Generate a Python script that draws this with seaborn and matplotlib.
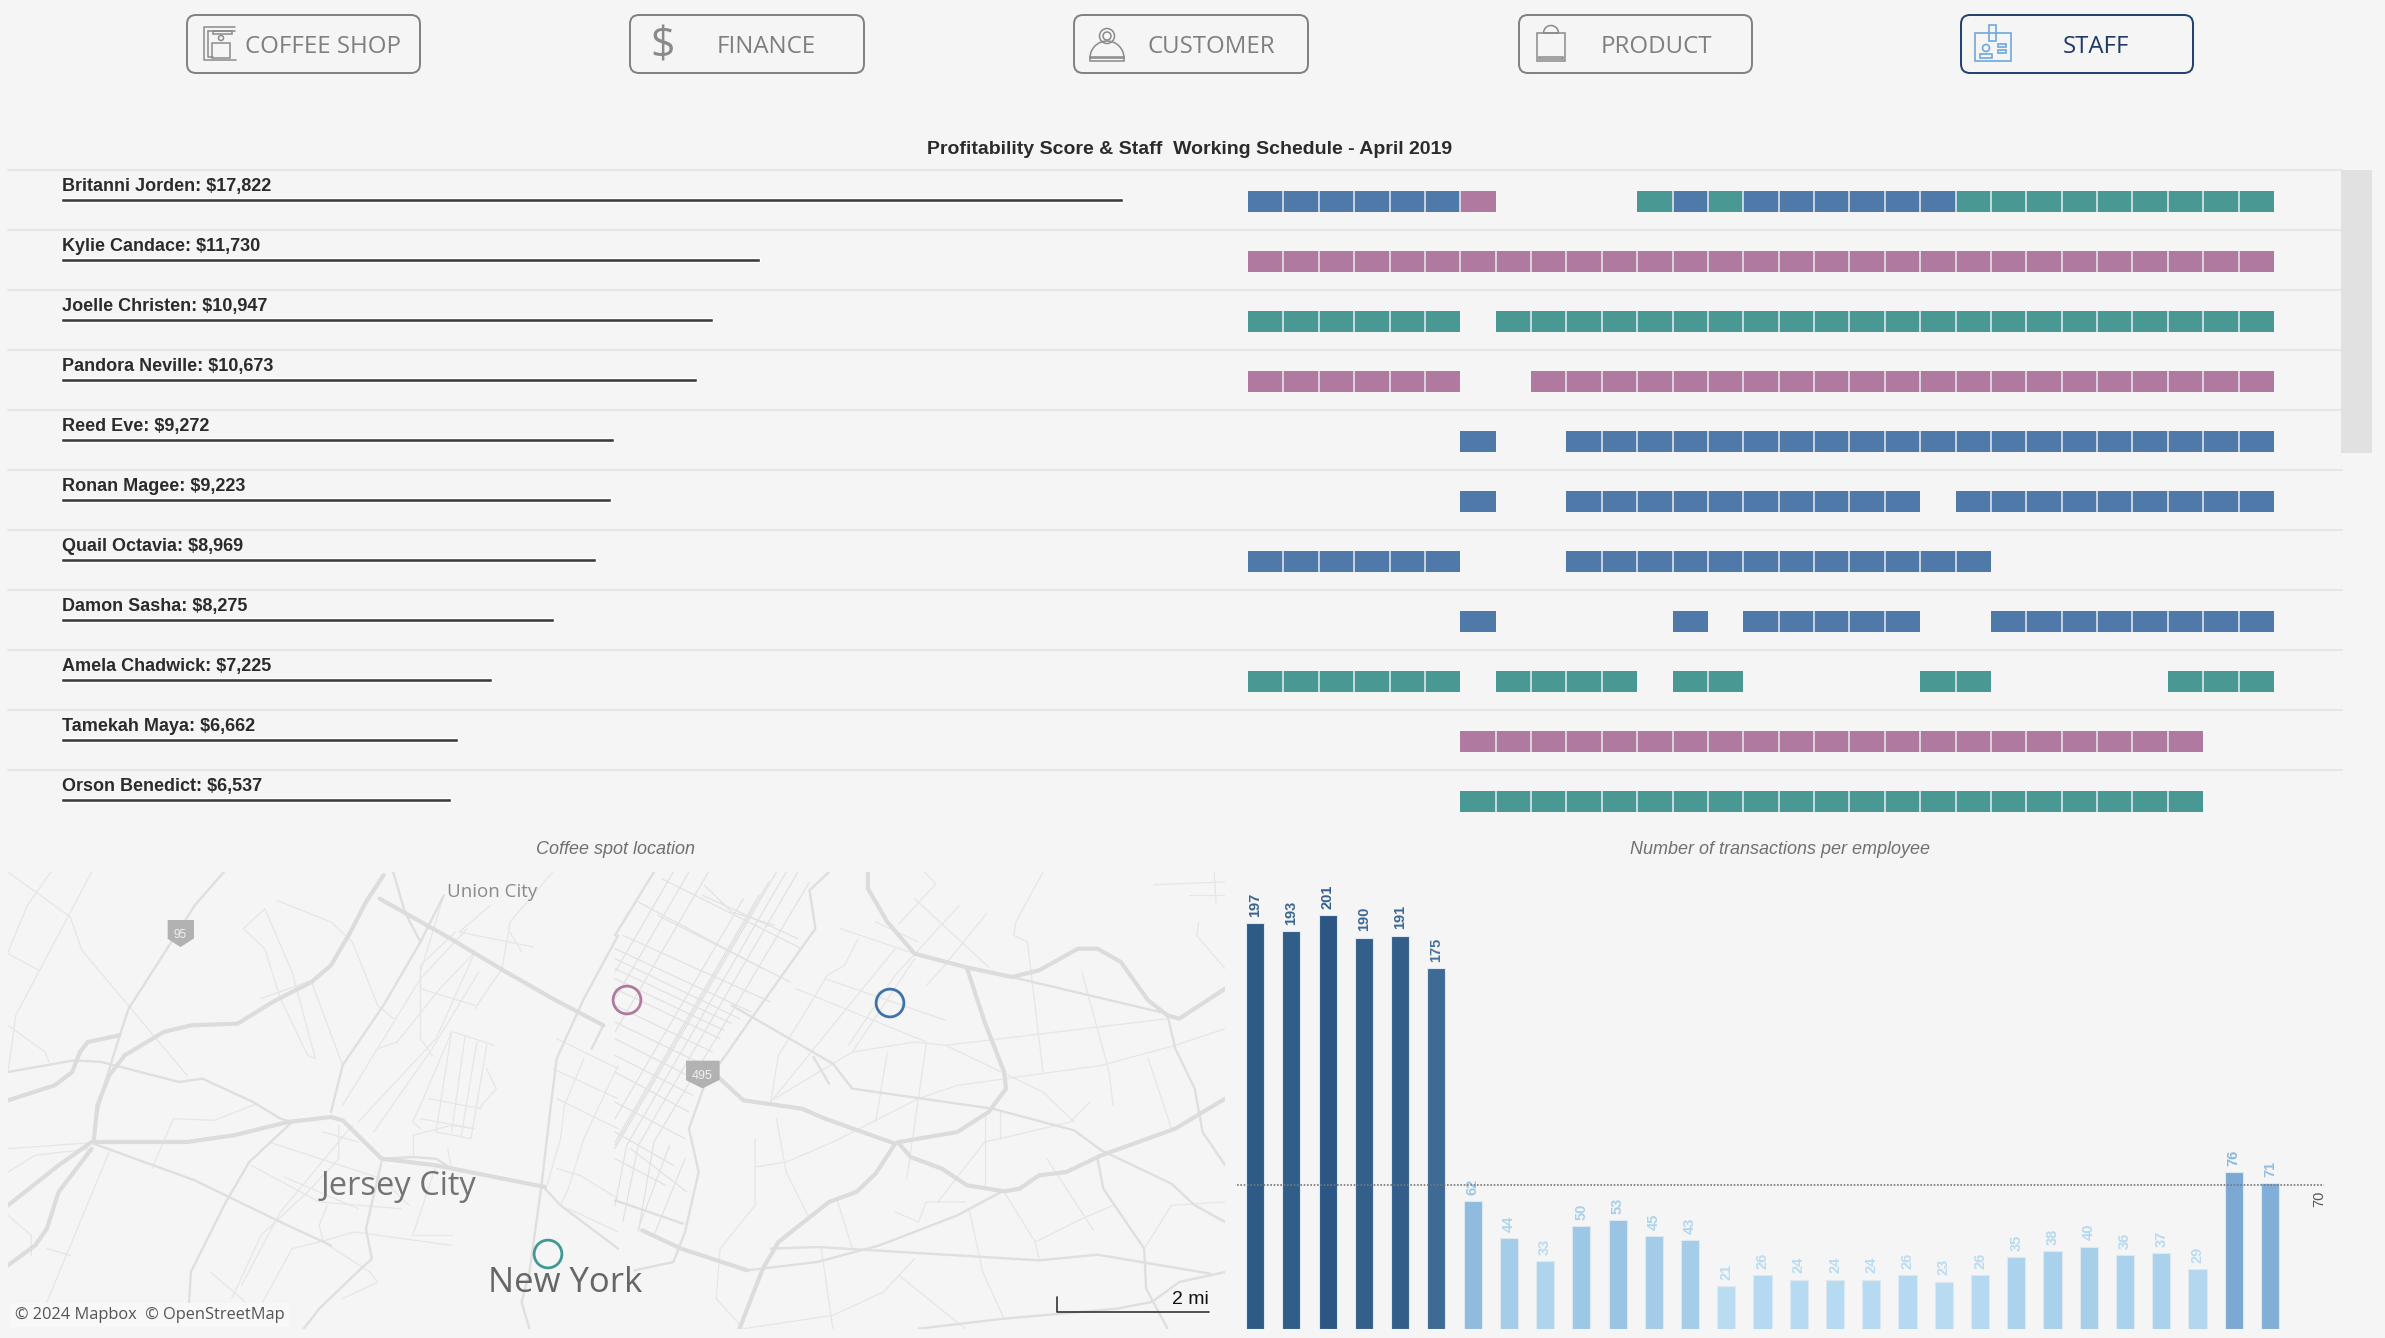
import numpy as np
import pandas as pd
import matplotlib
matplotlib.use("Agg")
import matplotlib.pyplot as plt
from matplotlib.colors import ListedColormap, LinearSegmentedColormap, Normalize
from matplotlib.patches import FancyBboxPatch, Rectangle, Circle, Wedge
import seaborn as sns

W, H = 2385, 1338
BG = "#f5f5f5"
BLUE = "#4f79a8"
TEAL = "#4a9894"
PINK = "#b0799f"

buttons = ["COFFEE SHOP", "FINANCE", "CUSTOMER", "PRODUCT", "STAFF"]

employees = ["Britanni Jorden", "Kylie Candace", "Joelle Christen", "Pandora Neville", "Reed Eve",
             "Ronan Magee", "Quail Octavia", "Damon Sasha", "Amela Chadwick", "Tamekah Maya", "Orson Benedict"]
profit = [17822, 11730, 10947, 10673, 9272, 9223, 8969, 8275, 7225, 6662, 6537]

# schedule per employee: 29 working days, . = off, b/t/p = store
schedule = [
    "bbbbbbp....tbtbbbbbbttttttttt",
    "ppppppppppppppppppppppppppppp",
    "tttttt.tttttttttttttttttttttt",
    "pppppp..ppppppppppppppppppppp",
    "......b..bbbbbbbbbbbbbbbbbbbb",
    "......b..bbbbbbbbbb.bbbbbbbbb",
    "bbbbbb...bbbbbbbbbbbb........",
    "......b.....b.bbbbb..bbbbbbbb",
    "tttttt.tttt.tt.....tt.....ttt",
    "......ppppppppppppppppppppp..",
    "......ttttttttttttttttttttt..",
]

transactions = [197, 193, 201, 190, 191, 175, 62, 44, 33, 50, 53, 45, 43, 21, 26, 24,
                24, 24, 26, 23, 26, 35, 38, 40, 36, 37, 29, 76, 71]
target = 70

# store markers in picture pixels
store_x = [627, 890, 548]
store_y = [1000, 1003, 1254]
store_colors = [PINK, "#3f72a8", "#3f9a96"]

west_heavy = [
    [(1280, 300), (1400, 380), (1530, 460)],
    [(215, 830), (130, 960), (100, 1070), (70, 1120), (0, 1180)],
    [(955, 80), (1130, 195), (1280, 300)],
    [(0, 685), (120, 640), (165, 600), (185, 540), (205, 510), (285, 490)],
    [(220, 810), (460, 810), (580, 790), (720, 750), (830, 735), (860, 745), (960, 860), (1100, 880), (1380, 945)],
    [(220, 810), (230, 700), (260, 610), (300, 550), (400, 480), (470, 460), (590, 455), (680, 390), (780, 330), (830, 280), (880, 180), (920, 90), (965, 10)],
    [(0, 1000), (130, 880), (215, 810)],
]
west_medium = [
    [(960, 860), (1040, 855), (1100, 860), (1140, 890)],
    [(1530, 460), (1500, 530)],
    [(555, 0), (480, 100), (420, 210), (310, 410), (290, 480), (250, 630), (225, 740), (220, 810)],
    [(0, 600), (170, 565), (240, 570), (440, 630), (500, 620), (630, 690), (700, 740), (730, 750)],
    [(730, 750), (620, 870), (560, 990), (470, 1200), (465, 1300)],
    [(830, 720), (860, 580), (965, 400), (1060, 210), (1120, 70)],
    [(990, 0), (1020, 120), (1060, 210)],
    [(220, 815), (480, 925), (700, 1050), (830, 1120)],
    [(960, 870), (920, 1070), (935, 1160), (880, 1220), (800, 1310), (760, 1370)],
    [(1568, 190), (1480, 380), (1410, 560), (1390, 750), (1370, 950), (1340, 1200), (1320, 1290), (1340, 1370)],
    [(1380, 950), (1420, 1000), (1568, 1130)],
]
west_minor = [
    [(0, 0), (160, 135), (190, 235), (460, 610)],
    [(110, 0), (50, 100), (0, 240)],
    [(215, 0), (20, 430), (0, 600)],
    [(0, 245), (80, 295)],
    [(0, 460), (95, 540), (105, 570)],
    [(0, 830), (215, 812)],
    [(0, 900), (70, 850), (215, 830)],
    [(605, 170), (660, 110), (730, 300), (790, 560), (770, 550), (700, 380), (660, 230), (605, 170)],
    [(690, 85), (830, 150), (885, 210), (950, 400), (990, 440)],
    [(650, 380), (780, 325)],
    [(780, 330), (860, 580)],
    [(370, 890), (425, 740), (530, 745), (640, 695)],
    [(1120, 70), (1060, 300), (1060, 500), (1090, 550)],
    [(1150, 180), (1060, 280), (1060, 350), (1200, 400)],
    [(1400, 0), (1290, 150), (1270, 290), (1240, 340), (1200, 410)],
    [(1240, 100), (1160, 180), (1350, 225)],
    [(1290, 180), (1320, 240)],
    [(950, 530), (1000, 510), (1110, 350), (1200, 240)],
    [(860, 700), (1060, 320), (1180, 170)],
    [(900, 750), (1100, 500), (1200, 240)],
    [(940, 780), (1090, 530), (1210, 300)],
    [(1140, 480), (1060, 700), (1040, 750), (1060, 770)],
    [(1145, 480), (1250, 520)],
    [(1140, 480), (1100, 780), (1190, 800), (1230, 520)],
    [(1175, 490), (1140, 780)],
    [(1205, 510), (1165, 790)],
    [(1230, 590), (1255, 650), (1210, 710)],
    [(1080, 680), (1215, 710)],
    [(1060, 740), (1200, 770)],
    [(1040, 790), (1140, 760), (1195, 770)],
    [(1040, 790), (1040, 850)],
    [(1130, 830), (1140, 890)],
    [(810, 780), (900, 810)],
    [(670, 810), (960, 920), (1030, 1000)],
    [(625, 880), (800, 990), (1010, 1010)],
    [(800, 1110), (890, 1080), (1140, 1120)],
    [(1040, 1090), (1140, 1090)],
    [(1100, 880), (1040, 1090)],
    [(850, 760), (850, 860), (770, 960), (650, 1090), (575, 1280)],
    [(885, 760), (700, 1020), (600, 1240)],
    [(800, 1110), (730, 1130), (650, 1300)],
    [(710, 915), (900, 1010)],
    [(520, 1200), (610, 1290)],
    [(800, 1060), (820, 1000)],
    [(800, 1060), (810, 1110), (930, 1200)],
    [(930, 1200), (950, 1230), (860, 1280)],
    [(0, 1030), (60, 1090), (60, 1150)],
    [(100, 1130), (160, 1150)],
    [(100, 1290), (260, 840)],
    [(1410, 500), (1568, 590)],
    [(1400, 590), (1568, 680)],
    [(1410, 680), (1568, 770)],
    [(1480, 560), (1430, 700), (1420, 800), (1385, 940)],
    [(1568, 580), (1480, 800), (1440, 950), (1420, 1000)],
    [(1410, 890), (1470, 910), (1568, 980)],
    [(1440, 1010), (1568, 1080)],
]

east_heavy = [
    [(650, 0), (650, 50), (700, 150), (770, 245), (900, 285), (1020, 315), (1090, 295), (1190, 230), (1240, 230), (1300, 270), (1370, 385), (1420, 430), (1450, 440), (1568, 350)],
    [(905, 290), (950, 450), (1000, 600), (1005, 650), (960, 720), (880, 780), (730, 810), (720, 815), (540, 740), (480, 710), (330, 685), (265, 615)],
    [(730, 815), (760, 855), (840, 890), (905, 940), (1000, 958), (1040, 950), (1090, 910), (1160, 900), (1250, 850), (1440, 770), (1568, 680)],
    [(720, 815), (670, 905), (620, 960), (550, 990), (420, 1110), (380, 1190), (320, 1370)],
    [(70, 1075), (170, 1130), (340, 1195)],
]
east_medium = [
    [(1420, 430), (1440, 530), (1490, 650), (1510, 780), (1568, 880)],
    [(1020, 315), (1400, 420)],
    [(300, 400), (560, 575), (610, 650), (970, 710), (1180, 775), (1250, 835), (1430, 935), (1490, 1000), (1568, 1050)],
    [(510, 555), (550, 635)],
    [(550, 0), (500, 55), (515, 170), (350, 440), (260, 590)],
    [(230, 640), (190, 770), (215, 900), (180, 1080), (150, 1170), (50, 1195)],
    [(100, 0), (0, 190)],
    [(0, 985), (175, 1055)],
    [(340, 1195), (520, 1170), (680, 1120), (880, 1030), (1000, 955)],
    [(400, 1130), (520, 1125), (1090, 1165), (1240, 1148), (1530, 1205)],
    [(1240, 860), (1255, 950), (1360, 1130), (1365, 1250), (1420, 1370)],
    [(1568, 1200), (1450, 1230), (1380, 1290), (1290, 1310), (1000, 1340), (780, 1370)],
]
east_minor = [
    [(580, 170), (770, 245)],
    [(885, 100), (720, 310), (600, 520)],
    [(730, 155), (825, 35), (795, 0)],
    [(770, 80), (960, 285)],
    [(955, 125), (840, 290), (800, 340)],
    [(1100, 0), (1030, 150), (1025, 190), (1060, 210), (1100, 600)],
    [(670, 150), (780, 210)],
    [(625, 200), (590, 280), (545, 310), (510, 380), (420, 550), (400, 690)],
    [(465, 350), (800, 510)],
    [(540, 320), (850, 445)],
    [(720, 230), (400, 690)],
    [(770, 260), (610, 540)],
    [(610, 540), (770, 510), (850, 520), (1420, 440)],
    [(850, 520), (1100, 660), (1180, 750)],
    [(610, 540), (410, 680)],
    [(700, 540), (670, 750)],
    [(800, 515), (750, 920)],
    [(880, 640), (1250, 580), (1440, 520), (1568, 470)],
    [(880, 640), (780, 680), (560, 810), (440, 870), (360, 885)],
    [(1200, 300), (1270, 600), (1280, 700)],
    [(1370, 560), (1430, 770)],
    [(1220, 690), (1170, 750), (990, 800), (950, 810), (830, 990)],
    [(950, 720), (950, 950)],
    [(990, 720), (990, 800)],
    [(415, 740), (440, 900), (500, 1040)],
    [(360, 800), (360, 1000), (270, 1130), (260, 1280), (330, 1370)],
    [(1110, 860), (1230, 1075)],
    [(1000, 960), (1080, 1110), (1090, 1165)],
    [(1080, 1110), (1200, 1040), (1280, 1000)],
    [(1360, 1130), (1430, 1000), (1568, 990)],
    [(910, 1010), (945, 1200), (1000, 1340)],
    [(730, 1210), (900, 1370)],
    [(770, 1160), (690, 1260), (560, 1330), (330, 1370)],
    [(530, 1130), (560, 1370)],
    [(570, 980), (610, 1130)],
    [(720, 1020), (780, 1050), (800, 990), (900, 990)],
    [(1500, 150), (1495, 190), (1568, 290)],
    [(1385, 38), (1568, 30)],
    [(1475, 70), (1568, 70)],
    [(1540, 0), (1545, 95)],
]
# midtown streets and avenues
grid_lines = [
    [(150, 0), (0, 300)], [(190, 0), (0, 380)], [(240, 0), (0, 480)],
    [(330, 80), (0, 740)], [(370, 70), (0, 810)], [(395, 30), (0, 820)], [(415, 0), (0, 830)],
    [(440, 0), (30, 820), (0, 1000)], [(470, 0), (60, 820), (20, 1050)], [(500, 30), (100, 810), (60, 1080)],
    [(0, 230), (350, 420)], [(0, 260), (320, 440)], [(0, 290), (300, 455)], [(0, 320), (280, 475)],
    [(0, 350), (270, 500)], [(0, 400), (250, 540)], [(0, 450), (230, 580)], [(0, 500), (220, 630)],
    [(0, 550), (200, 670)], [(0, 600), (190, 720)], [(0, 690), (180, 800)], [(0, 780), (150, 880)],
    [(120, 20), (480, 230)], [(225, 70), (470, 200)], [(110, 130), (450, 330)], [(60, 90), (380, 290)],
    [(20, 190), (400, 390)], [(230, 40), (300, 120), (410, 160)],
    [(0, 860), (130, 940)], [(40, 830), (185, 960)], [(140, 820), (60, 1070)], [(180, 860), (100, 1090)],
]

sns.set_theme(style="white")
plt.rcParams["font.family"] = ["Liberation Sans", "DejaVu Sans"]

fig = plt.figure(figsize=(W / 100, H / 100), dpi=100, facecolor=BG)


def px_axes(x0, y0, x1, y1):
    ax = fig.add_axes([x0 / W, 1 - y1 / H, (x1 - x0) / W, (y1 - y0) / H])
    ax.set_axis_off()
    ax.patch.set_alpha(0)
    return ax


# page furniture, drawn in pixels
page = px_axes(0, 0, W, H)
page.set_xlim(0, W)
page.set_ylim(H, 0)

button_x = [(187, 420, 323), (630, 864, 766), (1074, 1308, 1211), (1519, 1752, 1656), (1961, 2193, 2096)]
for label, (x0, x1, tx) in zip(buttons, button_x):
    active = label == "STAFF"
    page.add_patch(FancyBboxPatch((x0 + 8, 15 + 8), x1 - x0 - 16, 58 - 16, boxstyle="round,pad=8,rounding_size=9",
                                  fc="none", ec="#1f3f6e" if active else "#808080", lw=1.4))
    page.text(tx, 47, label, ha="center", va="center", fontsize=17.3, family="Open Sans",
              color="#1f3864" if active else "#7f7f7f")

icon = dict(fc="none", ec="#8a8a8a", lw=1.1)
# coffee machine
page.plot([235, 204, 204, 236], [27, 27, 60, 60], color="#8a8a8a", lw=1.1)
page.plot([208, 208, 213], [31, 57, 57], color="#8a8a8a", lw=1.1)
page.plot([208, 235], [31, 31], color="#8a8a8a", lw=1.1)
page.add_patch(Rectangle((213, 31), 19, 3, **icon))
page.add_patch(Circle((221, 38), 2.5, **icon))
page.add_patch(Rectangle((212, 43), 18, 15, **icon))
# dollar sign
page.text(663, 47, "$", ha="center", va="center", fontsize=31, family="Open Sans", color="#8a8a8a")
# customer
page.add_patch(Circle((1107, 36), 7.5, **icon))
page.add_patch(Circle((1107, 36), 4, **icon))
page.add_patch(Wedge((1107, 58), 17, 180, 360, **icon))
page.add_patch(Rectangle((1090, 57), 34, 3.5, **icon))
# bag
page.add_patch(Rectangle((1537, 33), 28, 28, **icon))
page.add_patch(Wedge((1551, 33), 7.5, 180, 360, **icon))
page.add_patch(Rectangle((1539, 57), 24, 2, **icon))
# badge
badge = dict(fc="none", ec="#6fa8dc", lw=1.2)
page.add_patch(Rectangle((1975, 33), 36, 28, **badge))
page.add_patch(Rectangle((1989, 25), 7, 16, **badge))
page.add_patch(Circle((1986, 48), 3.5, **badge))
page.add_patch(Rectangle((1980, 54), 12, 4, **badge))
page.add_patch(Rectangle((1998, 44), 8, 3, **badge))
page.add_patch(Rectangle((1998, 50), 8, 3, **badge))

page.text(1190, 149.5, "Profitability Score & Staff  Working Schedule - April 2019", ha="center", va="center",
          fontsize=14, fontweight="bold", color="#2b2b2b")
for i in range(len(employees)):
    page.plot([8, 2342], [170 + 60 * i] * 2, color="#e6e6e6", lw=1.5)
page.add_patch(Rectangle((2341, 170), 31, 283, fc="#e1e1e1", ec="none"))
page.text(616, 849, "Coffee spot location", ha="center", va="center", fontsize=13, style="italic", color="#707070")
page.text(1780, 849, "Number of transactions per employee", ha="center", va="center", fontsize=13, style="italic", color="#707070")

# profit bars
profit_df = pd.DataFrame({"employee": employees, "profit": profit})
ax_profit = px_axes(61, 170, 1200, 830)
sns.barplot(data=profit_df, x="profit", y="employee", orient="h", width=0.055, color="#3c3c3c",
            saturation=1, ax=ax_profit)
ax_profit.set_xlim(0, 1139 / 0.0596)
ax_profit.set_ylim(10.5, -0.5)
ax_profit.set_axis_off()
for i, (name, val) in enumerate(zip(employees, profit)):
    ax_profit.text(12, i - 0.225, f"{name}: ${val:,}", ha="left", va="center", fontsize=13,
                   fontweight="bold", color="#2b2b2b")

# schedule as a heatmap: each employee takes 17 thin bands, the middle 6 hold the shifts
store_code = {".": np.nan, "b": 0, "t": 1, "p": 2}
grid = []
for row in schedule:
    cells = [store_code[c] for c in row]
    grid += [[np.nan] * len(cells)] * 6
    grid += [cells] * 6
    grid += [[np.nan] * len(cells)] * 5
grid = np.array(grid)
ax_sched = px_axes(1248, 169.5, 2274, 829.5)
sns.heatmap(grid, ax=ax_sched, cmap=ListedColormap([BLUE, TEAL, PINK]), vmin=0, vmax=2, cbar=False,
            xticklabels=False, yticklabels=False)
for r, row in enumerate(schedule):
    cuts = [d for d in range(1, len(row)) if row[d] != "." and row[d - 1] != "."]
    ax_sched.vlines(cuts, 17 * r + 6, 17 * r + 12, color="#e9edf1", lw=1.1)
ax_sched.set_axis_off()

# map
ax_map = px_axes(8, 872, 1225, 1329)


def draw_roads(roads, x_offset, color, lw, zorder):
    for road in roads:
        xs = [p[0] / 2.57 + x_offset for p in road]
        ys = [p[1] / 3 + 872 for p in road]
        ax_map.plot(xs, ys, color=color, lw=lw, zorder=zorder, solid_capstyle="round")


draw_roads(west_minor, 8, "#e6e6e6", 0.9, 1)
draw_roads(east_minor, 615, "#e6e6e6", 0.9, 1)
draw_roads(grid_lines, 615, "#e2e2e2", 0.9, 1)
draw_roads(west_medium, 8, "#dfdfdf", 1.7, 2)
draw_roads(east_medium, 615, "#dfdfdf", 1.7, 2)
draw_roads(west_heavy, 8, "#dcdcdc", 3.0, 3)
draw_roads(east_heavy, 615, "#dcdcdc", 3.0, 3)

shield_95 = [(-1, 1), (1, 1), (1, -0.35), (0, -1), (-1, -0.35)]
shield_495 = [(-1, 0.8), (1, 0.8), (1, -0.3), (0, -0.8), (-1, -0.3)]
ax_map.scatter([180], [933], marker=shield_95, s=340, color="#b2b2b2", zorder=4)
ax_map.scatter([702], [1074], marker=shield_495, s=560, color="#b2b2b2", zorder=4)
ax_map.text(180, 935, "95", ha="center", va="center", fontsize=8.5, color="#f0f0f0", zorder=5)
ax_map.text(702, 1076, "495", ha="center", va="center", fontsize=9, color="#f0f0f0", zorder=5)

sns.scatterplot(x=store_x, y=store_y, ax=ax_map, s=400, marker="o", facecolor="none",
                edgecolor=store_colors, linewidth=2.0, zorder=6, legend=False)
ax_map.set_xlim(8, 1225)
ax_map.set_ylim(1329, 872)
ax_map.set_axis_off()

ax_map.text(492, 892, "Union City", ha="center", va="center", fontsize=13.5, family="Open Sans", color="#8a8a8a", zorder=7)
ax_map.text(399, 1187, "Jersey City", ha="center", va="center", fontsize=23.5, family="Open Sans", color="#737373", zorder=7)
ax_map.text(565, 1283, "New York", ha="center", va="center", fontsize=25, family="Open Sans", color="#666666", zorder=7)
ax_map.text(15, 1315, "© 2024 Mapbox  © OpenStreetMap", ha="left", va="center", fontsize=11.8, family="Open Sans",
            color="#555555", zorder=8, bbox=dict(fc="#f8f8f8", ec="none", pad=3))
ax_map.plot([1057, 1057, 1209], [1297, 1312, 1312], color="#333333", lw=1.2, zorder=8)
ax_map.text(1209, 1300, "2 mi", ha="right", va="center", fontsize=14, color="#111111", zorder=8)

# transactions
trans_df = pd.DataFrame({"slot": range(len(transactions)), "count": transactions})
bar_cmap = LinearSegmentedColormap.from_list("trans", [
    (0.0, "#b9dcf3"), (24 / 180, "#a2cce8"), (41 / 180, "#8fbbdf"),
    (55 / 180, "#7ba9d3"), (154 / 180, "#3e6a96"), (1.0, "#2c5784")])
norm = Normalize(21, 201)
bar_colors = [bar_cmap(norm(v)) for v in transactions]
ax_bars = px_axes(1237, 872, 2324, 1329)
sns.barplot(data=trans_df, x="slot", y="count", hue="slot", palette=bar_colors, legend=False, dodge=False,
            width=0.5, saturation=1, edgecolor="#dfe8ef", linewidth=0.8, ax=ax_bars)
ax_bars.set_xlim(-0.5, 29.49)
ax_bars.set_ylim(0, 457 / 2.06)
ax_bars.set_axis_off()
ax_bars.axhline(target, color="#777777", lw=1.2, ls=(0, (1, 1)), zorder=5)
ax_bars.text(29.35, target - 7, str(target), rotation=90, ha="center", va="center", fontsize=10.5, color="#555555")
for i, v in enumerate(transactions):
    r, g, b, _ = bar_cmap(norm(max(v - 12, 21)))
    ax_bars.text(i, v + 3, str(v), rotation=90, ha="center", va="bottom", fontsize=10.5, fontweight="bold",
                 color=(r, g, b))

fig.savefig("out.png", dpi=100, facecolor=BG)
